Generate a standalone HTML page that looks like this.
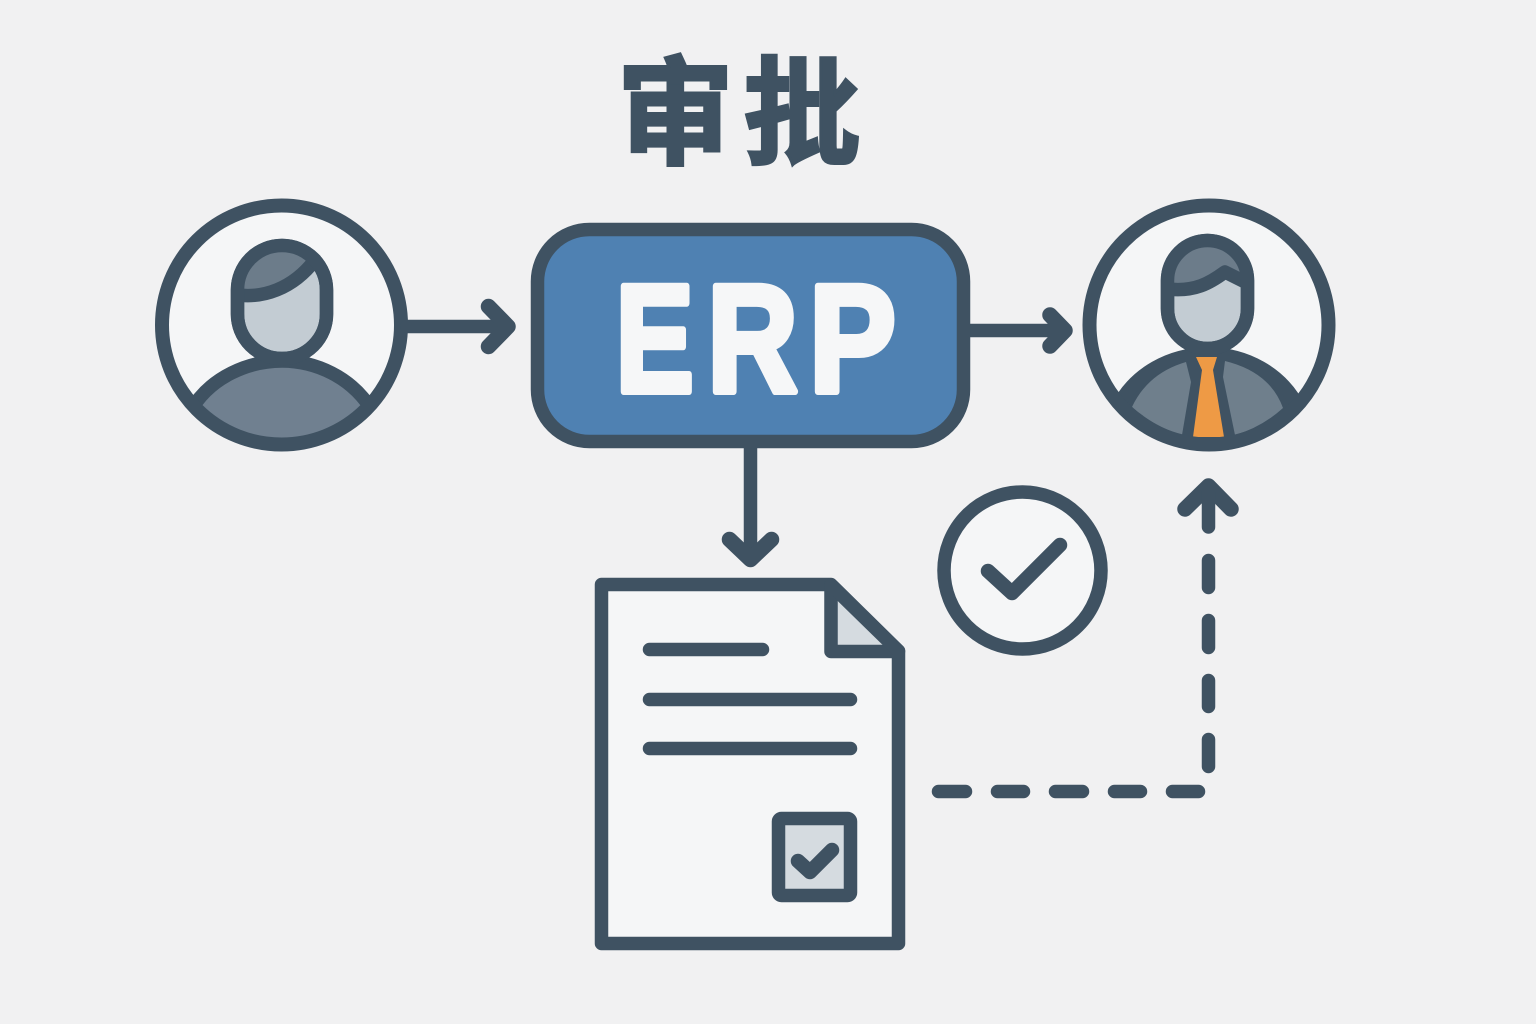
<!DOCTYPE html>
<html><head><meta charset="utf-8"><style>
html,body{margin:0;padding:0;background:#f1f1f2;width:1536px;height:1024px;overflow:hidden}
svg{display:block}
text{font-family:"Liberation Sans","Noto Sans CJK SC",sans-serif;font-weight:700}
</style></head><body>
<svg width="1536" height="1024" viewBox="0 0 1536 1024" xmlns="http://www.w3.org/2000/svg">
<defs>
<clipPath id="cl"><circle cx="281.5" cy="325" r="119.5"/></clipPath>
<clipPath id="cr"><circle cx="1209" cy="325" r="119.5"/></clipPath>
</defs>
<rect width="1536" height="1024" fill="#f1f1f2"/>
<g fill="#3f5262" stroke="#3f5262" stroke-width="3">
<text x="617" y="155" font-size="117">审</text>
<text x="743.5" y="155" font-size="117">批</text>
</g>
<g stroke="#3f5262" stroke-width="13.5" stroke-linecap="round" stroke-linejoin="round" fill="none">
<!-- left person -->
<circle cx="281.5" cy="325" r="119.5" fill="#f5f6f7" stroke="none"/>
<g clip-path="url(#cl)">
<path d="M190 412C210 376 250 361 282 361C314 361 352 376 373 412L373 480H190Z" fill="#708090"/>
</g>
<path d="M237.5 290A44.5 44.5 0 0 1 326.5 290V314A44.5 44.5 0 0 1 237.5 314Z" fill="#c3ccd3"/>
<path d="M238 295V290A44.5 44.5 0 0 1 315 260C292 290 262 298 238 295Z" fill="#6c7c8a" stroke="none"/>
<path d="M238 295C262 298 292 290 315 260"/>
<path d="M237.5 290A44.5 44.5 0 0 1 326.5 290V314A44.5 44.5 0 0 1 237.5 314Z"/>
<circle cx="281.5" cy="325" r="119.5" stroke-width="14"/>
<!-- right person -->
<circle cx="1209" cy="325" r="119.5" fill="#f5f6f7" stroke="none"/>
<g clip-path="url(#cr)">
<path d="M1116 410C1134 372 1172 354 1208 354C1244 354 1282 372 1300 410V480H1116Z" fill="#3f5262"/>
<path d="M1186 362Q1148 373 1132 407Q1155 427 1182 435L1191 382Z" fill="#6f7f8c" stroke="none"/>
<path d="M1225 361Q1270 372 1283 408Q1262 427 1235 435L1223 377Z" fill="#6f7f8c" stroke="none"/>
<path d="M1196 357H1217L1213 370L1224 437H1193L1202 370Z" fill="#ee9a45" stroke="none"/>
</g>
<path d="M1167.5 280.5A40 40 0 0 1 1247.5 280.5V308.5A40 40 0 0 1 1167.5 308.5Z" fill="#c3ccd3"/>
<path d="M1168 289V280.5A40 40 0 0 1 1247 280.5V283L1225 272C1210 283 1195 292 1168 289Z" fill="#6c7c8a" stroke="none"/>
<path d="M1168 289C1195 292 1210 283 1225 272L1247 283"/>
<path d="M1167.5 280.5A40 40 0 0 1 1247.5 280.5V308.5A40 40 0 0 1 1167.5 308.5Z"/>
<circle cx="1209" cy="325" r="119.5" stroke-width="14"/>
<!-- connectors -->
<path d="M407 326.5H505M970 330.5H1062M750.5 448V558"/>
<g stroke-width="15.5">
<path d="M488.5 306.5L508 326.5L488.5 346.5"/>
<path d="M1050 315L1065 330.5L1050 346"/>
<path d="M729.5 539.5L750.5 559.5L771.5 539.5"/>
<path d="M1185 509L1208.5 486L1231 509"/>
</g>
<!-- ERP -->
<rect x="537.5" y="229.5" width="426" height="212" rx="52" fill="#4f81b2"/>
<!-- document -->
<path d="M601.5 584.5H831L898.5 651V943.5H601.5Z" fill="#f5f6f7"/>
<path d="M831 585V651.5H898" fill="#d5dbe0"/>
<path d="M831 585L898.5 651" />
<path d="M649.5 649.5H762.5M649.5 699.5H850.5M649.5 748.5H850.5"/>
<rect x="778.5" y="818.5" width="72" height="77" rx="3" fill="#d5dbe0"/>
<path d="M798 861L810 872L832 850" stroke-width="14.5"/>
<!-- check -->
<circle cx="1022.5" cy="570.5" r="78.5" fill="#f5f6f7"/>
<path d="M988 571L1012 593L1060 545" stroke-width="14.5"/>
<!-- dashed -->
<path d="M938.5 791.5H965.5M997.5 791.5H1023.5M1055.5 791.5H1082.5M1114.5 791.5H1140.5M1172.5 791.5H1198.5"/>
<path d="M1208.5 739.5V766.5M1208.5 680.5V706.5M1208.5 620.5V647.5M1208.5 560.5V587.5M1208.5 492V527"/>
</g>
<g fill="#f6f7f8" stroke="#f6f7f8" stroke-width="7" stroke-linejoin="round">
<text transform="translate(615.6 391.5) scale(.766 1)" font-size="153">E</text>
<text transform="translate(707.3 391.5) scale(.819 1)" font-size="153">R</text>
<text transform="translate(809.1 391.5) scale(.851 1)" font-size="153">P</text>
</g>
</svg>
</body></html>
